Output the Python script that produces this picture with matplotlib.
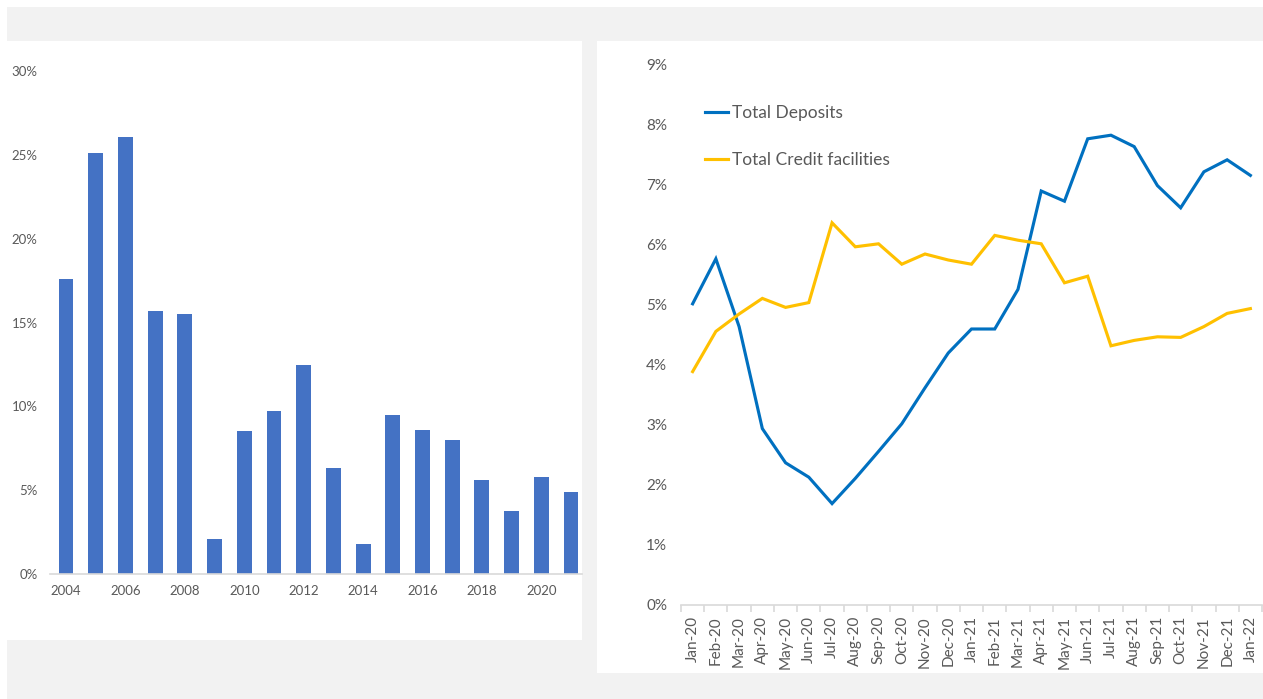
import matplotlib.pyplot as plt
from matplotlib.patches import Rectangle
from matplotlib.ticker import PercentFormatter

plt.rcParams["font.family"] = ["Lato", "DejaVu Sans"]

# left chart: yearly growth
years = list(range(2004, 2022))
growth = [17.6, 25.1, 26.05, 15.7, 15.5, 2.1, 8.5, 9.7, 12.45, 6.3,
          1.8, 9.5, 8.6, 8.0, 5.6, 3.75, 5.8, 4.9]

# right chart: monthly growth
months = ["Jan-20", "Feb-20", "Mar-20", "Apr-20", "May-20", "Jun-20", "Jul-20",
          "Aug-20", "Sep-20", "Oct-20", "Nov-20", "Dec-20", "Jan-21", "Feb-21",
          "Mar-21", "Apr-21", "May-21", "Jun-21", "Jul-21", "Aug-21", "Sep-21",
          "Oct-21", "Nov-21", "Dec-21", "Jan-22"]
deposits = [5.02, 5.77, 4.64, 2.94, 2.37, 2.13, 1.69, 2.11, 2.56, 3.02, 3.62,
            4.2, 4.6, 4.6, 5.26, 6.9, 6.73, 7.77, 7.83, 7.64, 6.99, 6.62,
            7.22, 7.42, 7.16]
credit = [3.89, 4.56, 4.85, 5.11, 4.96, 5.04, 6.37, 5.97, 6.02, 5.68, 5.85,
          5.75, 5.68, 6.16, 6.08, 6.02, 5.37, 5.48, 4.32, 4.41, 4.47, 4.46,
          4.64, 4.86, 4.94]

W, H = 1263, 699
TEXT = "#595959"
GRID = "#d9d9d9"


def fx(px):
    return px / W


def fy(py):
    return 1 - py / H


fig = plt.figure(figsize=(W / 100, H / 100), dpi=100, facecolor="white")

# background and white panels
for (x0, y0, x1, y1, col) in [(7, 7, W, H, "#f2f2f2"),
                              (7, 41, 582, 640, "white"),
                              (597, 41, W, 673, "white")]:
    fig.patches.append(Rectangle((fx(x0), fy(y1)), fx(x1 - x0), (y1 - y0) / H,
                                 transform=fig.transFigure, facecolor=col,
                                 edgecolor="none", linewidth=0, zorder=-5))

# ---- left bar chart
ax1 = fig.add_axes([fx(50), fy(574), fx(532), (574 - 71) / H])
ax1.patch.set_alpha(0)
x1 = list(range(len(years)))
ax1.bar(x1, [g / 100 for g in growth], width=0.5, color="#4472C4", zorder=2)
ax1.set_xlim(-0.54, 17.37)
ax1.set_ylim(0, 0.30)
ax1.set_yticks([0, 0.05, 0.10, 0.15, 0.20, 0.25, 0.30])
ax1.yaxis.set_major_formatter(PercentFormatter(1.0, decimals=0))
ax1.set_xticks(x1[::2])
ax1.set_xticklabels([str(y) for y in years[::2]])
for s in ["top", "right", "left"]:
    ax1.spines[s].set_visible(False)
ax1.spines["bottom"].set_color(GRID)
ax1.spines["bottom"].set_linewidth(1.2)
ax1.tick_params(axis="both", length=0, labelsize=9.5, colors=TEXT)
ax1.tick_params(axis="y", pad=9)
ax1.tick_params(axis="x", pad=8)

# ---- right line chart
ax2 = fig.add_axes([fx(681), fy(605), fx(581), (605 - 65) / H])
ax2.patch.set_alpha(0)
x2 = list(range(len(months)))
ax2.plot(x2, [d / 100 for d in deposits], color="#0070C0", lw=2.25,
         label="Total Deposits", solid_joinstyle="miter")
ax2.plot(x2, [c / 100 for c in credit], color="#FFC000", lw=2.25,
         label="Total Credit facilities", solid_joinstyle="miter")
ax2.set_xlim(-0.5, 24.5)
ax2.set_ylim(0, 0.09)
ax2.set_yticks([i / 100 for i in range(10)])
ax2.yaxis.set_major_formatter(PercentFormatter(1.0, decimals=0))
ax2.set_xticks(x2)
ax2.set_xticklabels(months, rotation=90)
ax2.set_xticks([i - 0.5 for i in range(len(months) + 1)], minor=True)
for s in ["top", "right", "left"]:
    ax2.spines[s].set_visible(False)
ax2.spines["bottom"].set_color(GRID)
ax2.spines["bottom"].set_linewidth(1.2)
ax2.tick_params(axis="both", which="major", length=0, labelsize=11, colors=TEXT)
ax2.tick_params(axis="y", pad=10)
ax2.tick_params(axis="x", which="major", pad=8)
ax2.tick_params(axis="x", which="minor", length=5, width=1.2, color=GRID, direction="out")

leg = ax2.legend(loc="upper left", bbox_to_anchor=(fx(705), fy(105)),
                 bbox_transform=fig.transFigure, frameon=False, fontsize=12.5,
                 handlelength=1.35, handletextpad=0.2, labelspacing=1.8,
                 borderpad=0, borderaxespad=0)
for t in leg.get_texts():
    t.set_color(TEXT)

fig.savefig("out.png", dpi=100, facecolor=fig.get_facecolor())
